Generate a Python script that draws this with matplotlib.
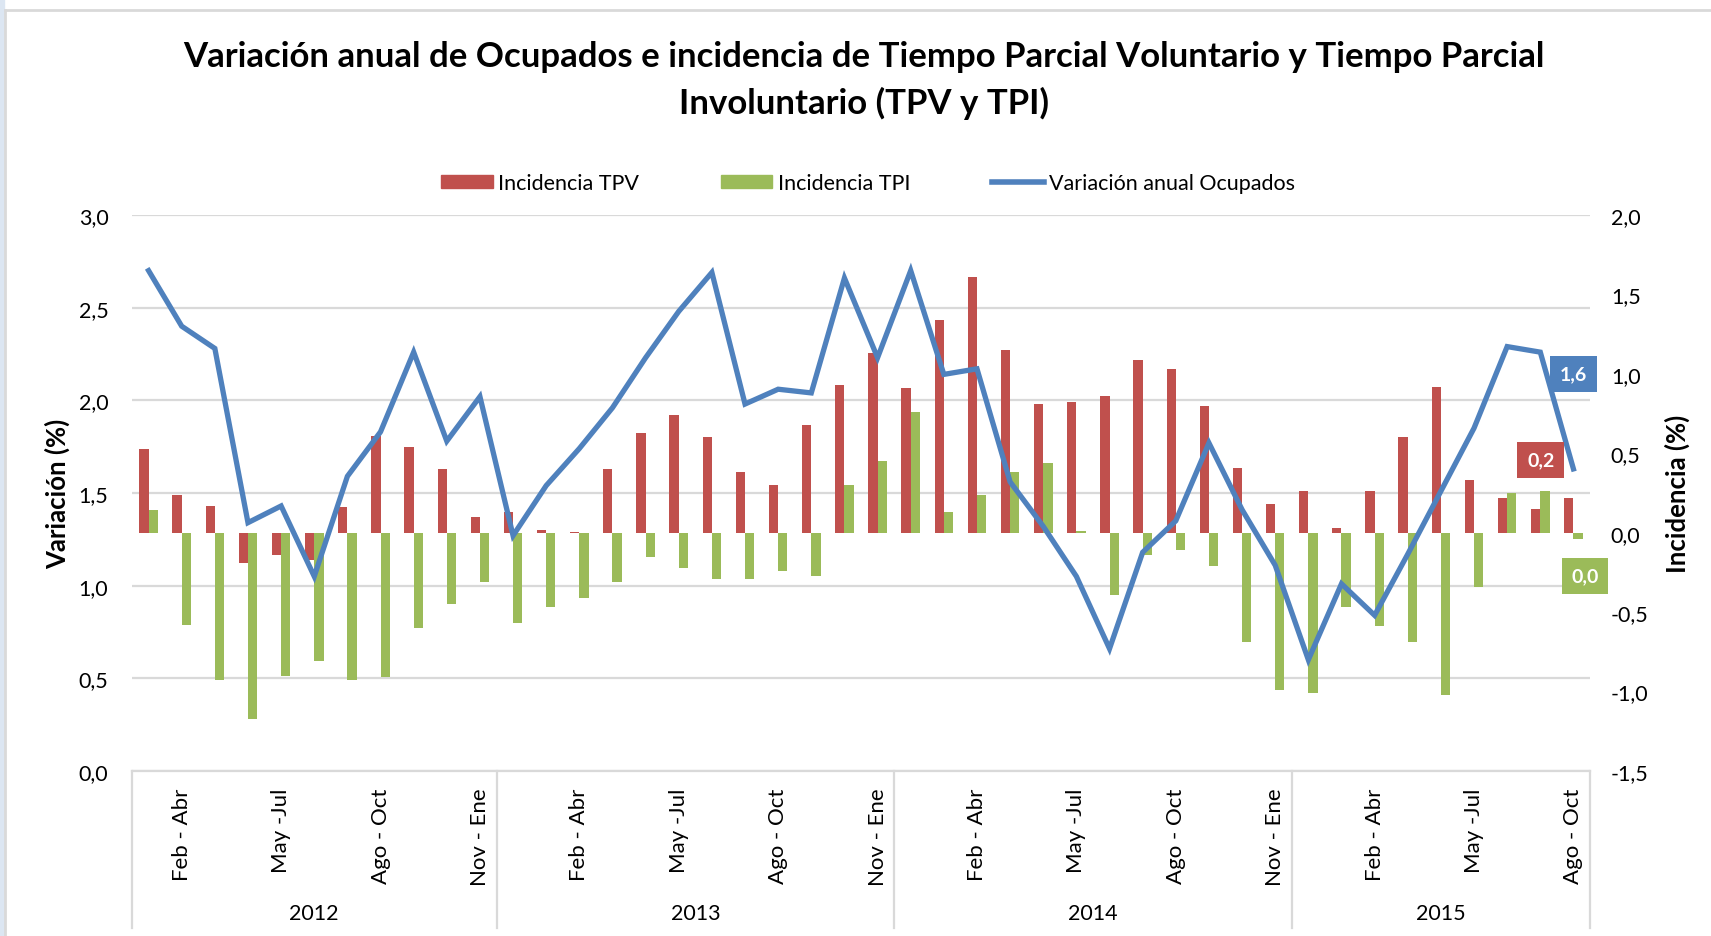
import matplotlib
matplotlib.use("Agg")
import matplotlib.pyplot as plt
import matplotlib.transforms as mtransforms
from matplotlib.patches import Patch, Rectangle
from matplotlib.lines import Line2D

plt.rcParams['font.family'] = ['Lato', 'DejaVu Sans']

# trimestres moviles, Ene-Mar 2012 .. Ago-Oct 2015
periods = ['Ene - Mar', 'Feb - Abr', 'Mar - May', 'Abr - Jun', 'May -Jul', 'Jun - Ago',
           'Jul - Sep', 'Ago - Oct', 'Sep - Nov', 'Oct - Dic', 'Nov - Ene',
           'Dic - Feb', 'Ene - Mar', 'Feb - Abr', 'Mar - May', 'Abr - Jun', 'May -Jul',
           'Jun - Ago', 'Jul - Sep', 'Ago - Oct', 'Sep - Nov', 'Oct - Dic', 'Nov - Ene',
           'Dic - Feb', 'Ene - Mar', 'Feb - Abr', 'Mar - May', 'Abr - Jun', 'May -Jul',
           'Jun - Ago', 'Jul - Sep', 'Ago - Oct', 'Sep - Nov', 'Oct - Dic', 'Nov - Ene',
           'Dic - Feb', 'Ene - Mar', 'Feb - Abr', 'Mar - May', 'Abr - Jun', 'May -Jul',
           'Jun - Ago', 'Jul - Sep', 'Ago - Oct']
years = ['2012', '2013', '2014', '2015']
year_counts = [11, 12, 12, 9]

ocupados = [2.70, 2.40, 2.28, 1.34, 1.43, 1.05, 1.59, 1.83, 2.26, 1.78, 2.02,
            1.27, 1.54, 1.74, 1.96, 2.23, 2.48, 2.69, 1.98, 2.06, 2.04, 2.66,
            2.23, 2.70, 2.14, 2.17, 1.56, 1.32, 1.05, 0.66, 1.18, 1.35, 1.77,
            1.41, 1.11, 0.60, 1.01, 0.84, 1.17, 1.51, 1.85, 2.29, 2.26, 1.63]
tpv = [0.53, 0.24, 0.17, -0.19, -0.14, -0.17, 0.16, 0.61, 0.54, 0.40, 0.10,
       0.13, 0.02, 0.003, 0.40, 0.63, 0.74, 0.60, 0.38, 0.30, 0.68, 0.93,
       1.13, 0.91, 1.34, 1.61, 1.15, 0.81, 0.82, 0.86, 1.09, 1.03, 0.80,
       0.41, 0.18, 0.26, 0.03, 0.26, 0.60, 0.92, 0.33, 0.22, 0.15, 0.22]
tpi = [0.14, -0.58, -0.93, -1.17, -0.90, -0.81, -0.93, -0.91, -0.60, -0.45, -0.31,
       -0.57, -0.47, -0.41, -0.31, -0.15, -0.22, -0.29, -0.29, -0.24, -0.27, 0.30,
       0.45, 0.76, 0.13, 0.24, 0.38, 0.44, 0.01, -0.39, -0.14, -0.11, -0.21,
       -0.69, -0.99, -1.01, -0.47, -0.59, -0.69, -1.02, -0.34, 0.25, 0.26, -0.04]

RED = "#C0504D"
GREEN = "#9BBB59"
BLUE = "#4F81BD"
GRID = "#D9D9D9"


def fmt(v):
    s = f"{v:.1f}".replace('.', ',')
    return "0,0" if s == "-0,0" else s


fig = plt.figure(figsize=(17.11, 9.37), dpi=100)
ax = fig.add_axes([132 / 1711, 1 - 772 / 937, 1458 / 1711, 556 / 937])
ax2 = ax.twinx()

x = list(range(len(periods)))
w = 0.28

# left axis: variacion ocupados (gridlines live here)
ax.set_ylim(0, 3.0)
ax.set_yticks([0, 0.5, 1.0, 1.5, 2.0, 2.5, 3.0])
ax.set_yticklabels([fmt(v) for v in ax.get_yticks()], fontsize=15.5)
ax.yaxis.grid(True, color=GRID, linewidth=1.6)
ax.set_axisbelow(True)
ax.set_xlim(-0.5, len(periods) - 0.5)
ax.tick_params(axis='y', length=0, pad=17)

# right axis: incidencia bars
ax2.bar([i - w / 2 for i in x], tpv, width=w, color=RED, zorder=2)
ax2.bar([i + w / 2 for i in x], tpi, width=w, color=GREEN, zorder=2)
ax2.set_ylim(-1.5, 2.0)
ax2.set_yticks([-1.5, -1.0, -0.5, 0, 0.5, 1.0, 1.5, 2.0])
ax2.set_yticklabels([fmt(v) for v in ax2.get_yticks()], fontsize=15.5)
ax2.tick_params(axis='y', length=0, pad=15)

# line drawn in the top axes but on the left scale
ax2.plot(x, ocupados, color=BLUE, linewidth=3.8, transform=ax.transData,
         solid_joinstyle='miter', zorder=3)

for a in (ax, ax2):
    for s in a.spines.values():
        s.set_visible(False)
ax.spines['bottom'].set_visible(True)
ax.spines['bottom'].set_color(GRID)
ax.spines['bottom'].set_linewidth(1.6)

ax.set_xticks(x[1::3])
ax.set_xticklabels(periods[1::3], rotation=90, fontsize=16)
ax.tick_params(axis='x', length=0, pad=12)

# year groups under the axis
trans = mtransforms.blended_transform_factory(ax.transData, ax.transAxes)
start = -0.5
for yr, n in zip(years, year_counts):
    ax.plot([start, start], [0, -0.282], color=GRID, linewidth=1.6,
            transform=trans, clip_on=False)
    ax.text(start + n / 2, -0.255, yr, transform=trans, ha='center', va='center',
            fontsize=15.5)
    start += n
ax.plot([start, start], [0, -0.282], color=GRID, linewidth=1.6,
        transform=trans, clip_on=False)

fig.text(57 / 1711, 1 - 494 / 937, "Variación (%)", rotation=90, ha='center',
         va='center', fontsize=18.5, fontweight='bold')
fig.text(1677 / 1711, 1 - 494 / 937, "Incidencia (%)", rotation=90, ha='center',
         va='center', fontsize=18.5, fontweight='bold')

# data labels on the last period
last = len(periods) - 1
lbl = dict(textcoords='offset pixels', ha='center', va='center', color='white',
           fontsize=14, fontweight='bold', zorder=5)
ax2.annotate(fmt(ocupados[last]), (last, ocupados[last]), xycoords=ax.transData,
             xytext=(0, 95), bbox=dict(boxstyle='square,pad=0.5', fc=BLUE, ec='none'),
             **lbl)
ax2.annotate(fmt(tpv[last]), (last - w / 2, tpv[last]), xytext=(-28, 38),
             bbox=dict(boxstyle='square,pad=0.5', fc=RED, ec='none'), **lbl)
ax2.annotate(fmt(tpi[last]), (last + w / 2, tpi[last]), xytext=(7, -37),
             bbox=dict(boxstyle='square,pad=0.5', fc=GREEN, ec='none'), **lbl)

# title and legend
fig.text(864 / 1711, 1 - 57 / 937,
         "Variación anual de Ocupados e incidencia de Tiempo Parcial Voluntario y Tiempo Parcial",
         ha='center', va='center', fontsize=25, fontweight='bold')
fig.text(864 / 1711, 1 - 103 / 937, "Involuntario (TPV y TPI)",
         ha='center', va='center', fontsize=25, fontweight='bold')

handles = [Patch(color=RED), Patch(color=GREEN), Line2D([], [], color=BLUE, linewidth=4)]
fig.legend(handles, ["Incidencia TPV", "Incidencia TPI", "Variación anual Ocupados"],
           loc='center', bbox_to_anchor=(868 / 1711, 1 - 184 / 937), ncol=3,
           frameon=False, fontsize=15.5, handlelength=2.4, handleheight=0.6,
           handletextpad=0.25, columnspacing=3.8)

# chart frame
fig.add_artist(Line2D([5 / 1711, 5 / 1711], [0, 1 - 11 / 937], color=GRID,
                      linewidth=2, transform=fig.transFigure))
fig.add_artist(Line2D([5 / 1711, 1], [1 - 11 / 937, 1 - 11 / 937], color=GRID,
                      linewidth=2, transform=fig.transFigure))
fig.add_artist(Rectangle((0, 0), 4 / 1711, 1, color="#DCE6F2",
                         transform=fig.transFigure))

fig.savefig("out.png", dpi=100, facecolor='white')
